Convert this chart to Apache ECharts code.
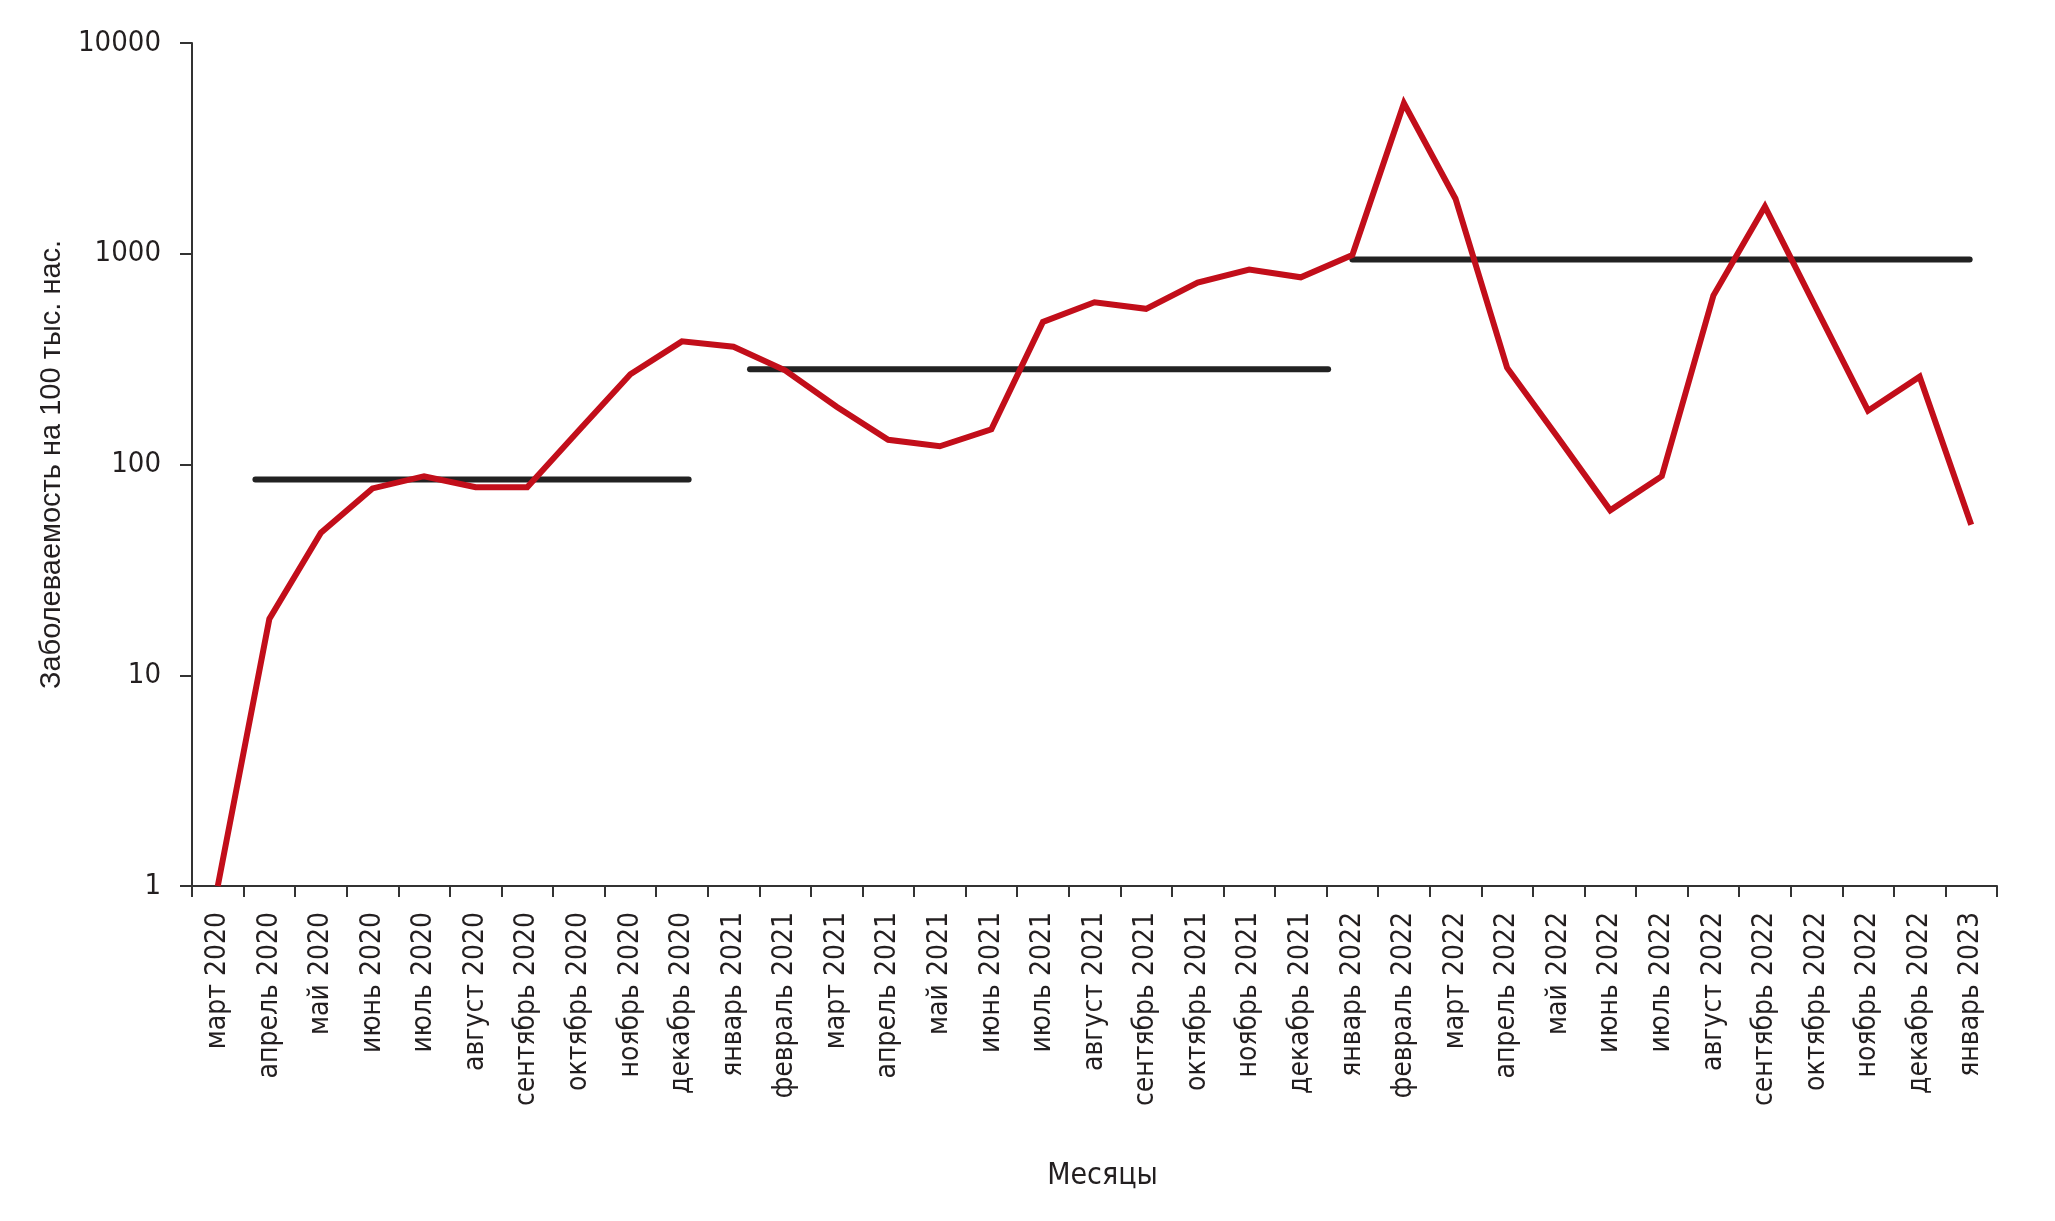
<!DOCTYPE html>
<html>
<head>
<meta charset="utf-8">
<script src="https://cdn.jsdelivr.net/npm/echarts@6/dist/echarts.min.js"></script>
<style>
html,body{margin:0;padding:0;background:#fff;}
#chart{width:2055px;height:1221px;}
</style>
</head>
<body>
<div id="chart"></div>
<script>
const categories = [
  'март 2020','апрель 2020','май 2020','июнь 2020','июль 2020','август 2020','сентябрь 2020','октябрь 2020','ноябрь 2020','декабрь 2020',
  'январь 2021','февраль 2021','март 2021','апрель 2021','май 2021','июнь 2021','июль 2021','август 2021','сентябрь 2021','октябрь 2021','ноябрь 2021','декабрь 2021',
  'январь 2022','февраль 2022','март 2022','апрель 2022','май 2022','июнь 2022','июль 2022','август 2022','сентябрь 2022','октябрь 2022','ноябрь 2022','декабрь 2022',
  'январь 2023'
];
const incidence = [
  1, 18.5, 47.5, 77, 88, 78, 78, 145, 268, 384,
  362, 280, 188, 131, 122, 147, 475, 589, 548, 730, 842, 773,
  986, 5180, 1824, 288, 133, 60.6, 88, 633, 1674, 548, 180, 261,
  51.8
];
// Mean levels per period: [position, value] for start and end
const period2020 = [[0.73, 84.8], [9.13, 84.8]];
const period2021 = [[10.32, 283], [21.53, 283]];
const period2022 = [[22.0, 940], [33.97, 940]];
const yTicks = [1, 10, 100, 1000, 10000];

const narrow = '"Liberation Sans Narrow", "DejaVu Sans Condensed", sans-serif';
const textColor = '#231f20';

const chart = echarts.init(document.getElementById('chart'));
const meanStyle = {
  type: 'line', xAxisIndex: 1, symbol: 'none', silent: true,
  lineStyle: { color: '#222222', width: 6, cap: 'round' }, z: 2
};
chart.setOption({
  animation: false,
  backgroundColor: '#ffffff',
  grid: { left: 192, right: 58, top: 43, bottom: 335 },
  xAxis: [
    {
      type: 'category', data: categories, boundaryGap: true,
      name: 'Месяцы', nameLocation: 'middle', nameGap: 275, nameMoveOverlap: false,
      nameTextStyle: { fontFamily: narrow, fontSize: 30, color: textColor, padding: [0, 0, 0, 16] },
      axisLine: { lineStyle: { color: '#333', width: 2 } },
      axisTick: { show: true, length: 11, alignWithLabel: false, lineStyle: { color: '#333', width: 2 } },
      axisLabel: { rotate: 90, interval: 0, margin: 26, fontFamily: narrow, fontSize: 28, color: textColor },
      splitLine: { show: false }
    },
    {
      type: 'value', min: -0.5, max: 34.5, show: false
    }
  ],
  yAxis: {
    type: 'log', logBase: 10, min: yTicks[0], max: yTicks[yTicks.length - 1],
    name: 'Заболеваемость на 100 тыс. нас.', nameLocation: 'middle', nameGap: 126, nameRotate: 90,
    nameMoveOverlap: false,
    nameTextStyle: { fontFamily: '"Liberation Sans", Arial, sans-serif', fontSize: 29, color: textColor },
    axisLine: { show: true, onZero: false, lineStyle: { color: '#333', width: 2 } },
    axisTick: { show: true, length: 12, lineStyle: { color: '#333', width: 2 } },
    axisLabel: { margin: 31, fontFamily: narrow, fontSize: 29, color: textColor,
      formatter: function (v) { return String(Math.round(v)); } },
    splitLine: { show: false },
    minorTick: { show: false }
  },
  series: [
    Object.assign({ data: period2020 }, meanStyle),
    Object.assign({ data: period2021 }, meanStyle),
    Object.assign({ data: period2022 }, meanStyle),
    {
      type: 'line', data: incidence, symbol: 'none', z: 3,
      lineStyle: { color: '#c20e1a', width: 6, join: 'miter' }
    }
  ]
});
</script>
</body>
</html>
